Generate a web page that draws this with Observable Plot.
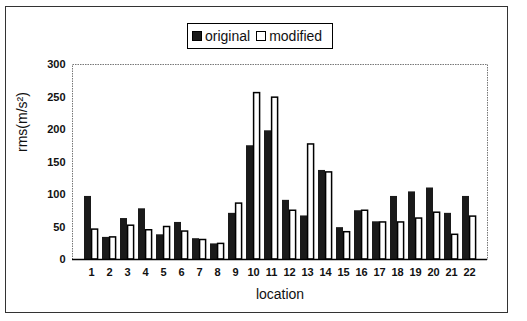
<!DOCTYPE html>
<html><head><meta charset="utf-8">
<script src="https://cdn.jsdelivr.net/npm/d3@7"></script>
<script src="https://cdn.jsdelivr.net/npm/@observablehq/plot@0.6"></script>
<style>
body{margin:0;background:#fff;font-family:"Liberation Sans",Arial,sans-serif;}
#wrap{position:relative;width:527px;height:321px;overflow:hidden;}
#border{position:absolute;left:5px;top:6px;width:503px;height:307px;border:1px solid #333;box-sizing:border-box;}
#legend{position:absolute;left:187px;top:23px;width:146px;height:26px;border:1px solid #000;box-sizing:border-box;background:#fff;display:flex;align-items:center;font-size:14px;color:#111;z-index:2;}
#legend span.sw{display:inline-block;width:10px;height:10px;border:1px solid #000;box-sizing:border-box;margin:0 3px 0 4px;}
#chart{position:absolute;left:0;top:0;}
</style></head><body>
<div id="wrap">
<div id="border"></div>
<div id="legend"><span class="sw" style="background:#1a1a1a"></span>original<span class="sw" style="background:#fff;margin-left:6px;border-width:1.5px"></span>modified</div>
<div id="chart"></div>
</div>
<script>
const locations = [1,2,3,4,5,6,7,8,9,10,11,12,13,14,15,16,17,18,19,20,21,22];
const original = [97,34,63,78,38,57,32,24,71,175,198,91,67,137,49,75,58,97,104,110,71,97];
const modified = [46,34,52,45,50,43,30,24,86,256,249,75,177,134,42,75,57,57,63,72,38,66];
const yTicks = [0,50,100,150,200,250,300];

const dataO = locations.map((l,i)=>({location:l, value:original[i]}));
const dataM = locations.map((l,i)=>({location:l, value:modified[i]}));

const plot = Plot.plot({
  width: 527, height: 321,
  marginTop: 64, marginBottom: 62, marginLeft: 72, marginRight: 40,
  style: {fontFamily: '"Liberation Sans", Arial, sans-serif', fontSize: "11px", background: "transparent", color: "#111"},
  x: {type: "band", domain: locations, paddingInner: 0.25, paddingOuter: 0.08, label: null},
  y: {domain: [0,300], ticks: yTicks, label: null},
  marks: [
    Plot.frame({stroke: "#777", strokeDasharray: "1.5,1"}),
    Plot.barY(dataO, {x: "location", y: "value", fill: "#1a1a1a", insetRight: 7}),
    Plot.barY(dataM, {x: "location", y: "value", fill: "#fff", stroke: "#000", strokeWidth: 1.5, insetLeft: 7.6, insetRight: 0.4}),
    Plot.ruleY([0], {stroke: "#000", strokeWidth: 1.5}),
    Plot.ruleX([0], {frameAnchor: "left", stroke: "#000", strokeWidth: 1.5}),
    Plot.axisY({ticks: yTicks, tickSize: 0, tickPadding: 7, fontWeight: "bold", fontSize: 11, label: null}),
    Plot.axisX({tickSize: 0, tickPadding: 9, fontWeight: "bold", fontSize: 11, label: null}),
    Plot.text(["rms(m/s²)"], {frameAnchor: "left", dx: -50, rotate: -90, fontSize: 14, dy: -10}),
    Plot.text(["location"], {frameAnchor: "bottom", dy: 39, fontSize: 14})
  ]
});
document.getElementById("chart").appendChild(plot);
</script>
</body></html>
